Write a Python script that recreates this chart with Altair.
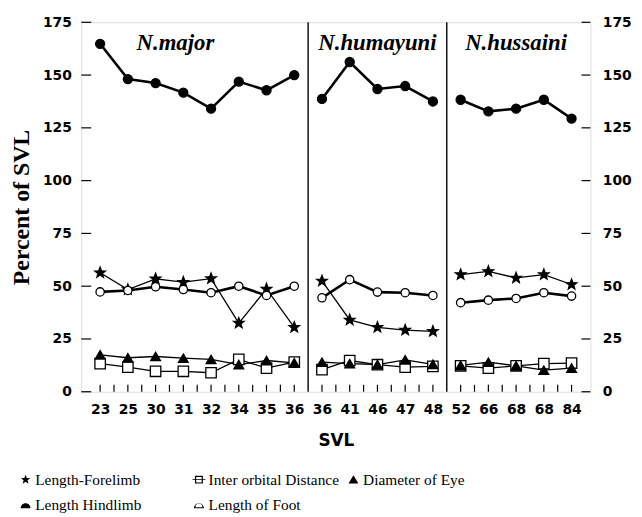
import math
import altair as alt
import numpy as np
import pandas as pd

# ---------------- data ----------------
panel_names = ["N.major", "N.humayuni", "N.hussaini"]
svl_major = ["23", "25", "30", "31", "32", "34", "35", "36"]
svl_humayuni = ["36", "41", "46", "47", "48"]
svl_hussaini = ["52", "66", "68", "68", "84"]

series_names = ["Length-Forelimb", "Inter orbital Distance", "Diameter of Eye",
                "Length Hindlimb", "Length of Foot"]

forelimb = [56.4, 48.4, 53.5, 51.9, 53.6, 32.5, 48.7, 30.5,
            52.5, 34.0, 30.5, 29.2, 28.6,
            55.5, 57.0, 53.9, 55.5, 50.8]
interorbital = [13.3, 11.7, 9.7, 9.7, 9.0, 15.3, 11.2, 14.0,
                10.5, 14.8, 12.8, 11.7, 12.0,
                12.3, 11.2, 12.3, 13.3, 13.6]
eye = [17.5, 16.1, 16.7, 15.9, 15.3, 12.9, 14.8, 13.7,
       14.0, 13.3, 12.9, 15.1, 13.0,
       12.5, 14.0, 12.3, 10.2, 11.2]
hindlimb = [164.8, 148.1, 146.2, 141.7, 134.1, 146.9, 142.8, 150.0,
            138.7, 156.2, 143.4, 144.8, 137.5,
            138.3, 132.8, 134.1, 138.3, 129.4]
foot = [47.3, 48.0, 49.7, 48.4, 46.9, 50.0, 45.6, 50.0,
        44.5, 53.1, 47.2, 46.9, 45.6,
        42.2, 43.4, 44.2, 46.9, 45.3]

y_tick_values = [0, 25, 50, 75, 100, 125, 150, 175]

# ---------------- tables ----------------
svl_groups = [svl_major, svl_humayuni, svl_hussaini]
svl_labels = svl_major + svl_humayuni + svl_hussaini
panel_of = []
for p, g in zip(panel_names, svl_groups):
    panel_of += [p] * len(g)
n = len(svl_labels)
values = dict(zip(series_names, [forelimb, interorbital, eye, hindlimb, foot]))

rows = []
for s in series_names:
    for i in range(n):
        rows.append({"idx": i, "svl": svl_labels[i], "panel": panel_of[i],
                     "series": s, "value": values[s][i]})
df = pd.DataFrame(rows)

# panel extents (index based)
starts, ends = [], []
k = 0
for g in svl_groups:
    starts.append(k)
    ends.append(k + len(g) - 1)
    k += len(g)
dividers = pd.DataFrame({"x": [(ends[i] + starts[i + 1]) / 2 for i in range(len(svl_groups) - 1)]})
minor = pd.DataFrame({"x": np.concatenate([np.arange(s, e + 0.01, 0.5) for s, e in zip(starts, ends)])})
titles = pd.DataFrame({"panel": panel_names,
                       "x": [(s + e) / 2 for s, e in zip(starts, ends)],
                       "dx": [-22, 0, 0]})
yticks = pd.DataFrame({"t": y_tick_values})

# ---------------- styling ----------------
W, H = 514, 373
xscale = alt.Scale(domain=[-0.679, 17.68], nice=False, zero=False)
yscale = alt.Scale(domain=[0, 175], nice=False, zero=True)
NUM_FONT = "DejaVu Sans"
SERIF = "Liberation Serif"


def star_path(r_in=0.42):
    pts = []
    for j in range(10):
        a = math.radians(-90 + 36 * j)
        r = 1.0 if j % 2 == 0 else r_in
        pts.append((r * math.cos(a), r * math.sin(a)))
    return "M" + " L".join(f"{x:.3f},{y:.3f}" for x, y in pts) + " Z"


STAR = star_path()
OPEN_SQ_LEG = ("M-0.8,-0.8 L0.8,-0.8 L0.8,0.8 L-0.8,0.8 Z "
               "M-0.55,-0.55 L-0.55,0.55 L0.55,0.55 L0.55,-0.55 Z "
               "M-1.3,-0.07 L1.3,-0.07 L1.3,0.07 L-1.3,0.07 Z")
TRI = "M0,-0.9 L1,0.8 L-1,0.8 Z"
DOME = "M-1,0.55 A1,1 0 0 1 1,0.55 Z"
OPEN_DOME = "M-1,0.55 A1,1 0 0 1 1,0.55 Z M0.72,0.35 A0.72,0.72 0 0 0 -0.72,0.35 Z"
leg_shapes = dict(zip(series_names, [STAR, OPEN_SQ_LEG, TRI, DOME, OPEN_DOME]))

plot_shapes = [STAR, "square", "triangle-up", "circle", "circle"]
plot_fills = ["black", "white", "black", "black", "white"]
plot_sizes = [125, 70, 80, 110, 105]

thin_series = series_names[:3]
thick_series = series_names[3:]
label_expr = "[" + ",".join(f"'{s}'" for s in svl_labels) + "][datum.value]"

X_noaxis = alt.X("idx:Q", scale=xscale, axis=None)
Y_noaxis = alt.Y("value:Q", scale=yscale, axis=None)

lines_thin = alt.Chart(df).transform_filter(
    alt.FieldOneOfPredicate(field="series", oneOf=thin_series)
).mark_line(color="black", strokeWidth=1.3).encode(
    x=alt.X("idx:Q", scale=xscale, axis=alt.Axis(
        values=list(range(n)), labelExpr=label_expr, title="SVL", grid=False,
        ticks=False, domain=False, labelFont=NUM_FONT, labelFontWeight="bold",
        labelFontSize=14, labelColor="black", labelPadding=11,
        titleFont=NUM_FONT, titleFontWeight="bold", titleFontSize=17,
        titleColor="black", titlePadding=16, labelFlush=False, labelOverlap=False)),
    y=alt.Y("value:Q", scale=yscale, axis=alt.Axis(
        orient="left", values=y_tick_values, title="Percent of SVL", grid=False,
        ticks=False, domain=False, labelFont=NUM_FONT, labelFontWeight="bold",
        labelFontSize=14, labelColor="black", labelPadding=10,
        titleFont=SERIF, titleFontWeight="bold", titleFontSize=24,
        titleColor="black", titlePadding=9)),
    detail=["series:N", "panel:N"],
)

lines_thick = alt.Chart(df).transform_filter(
    alt.FieldOneOfPredicate(field="series", oneOf=thick_series)
).mark_line(color="black", strokeWidth=2.6).encode(
    x=X_noaxis,
    y=alt.Y("value:Q", scale=yscale, axis=alt.Axis(
        orient="right", values=y_tick_values, title=None, grid=False,
        ticks=False, domain=False, labelFont=NUM_FONT, labelFontWeight="bold",
        labelFontSize=14, labelColor="black", labelPadding=12)),
    detail=["series:N", "panel:N"],
)

points = alt.Chart(df).mark_point(stroke="black", strokeWidth=1.3, opacity=1, fillOpacity=1).encode(
    x=X_noaxis, y=Y_noaxis,
    shape=alt.Shape("series:N", scale=alt.Scale(domain=series_names, range=plot_shapes), legend=None),
    fill=alt.Fill("series:N", scale=alt.Scale(domain=series_names, range=plot_fills), legend=None),
    size=alt.Size("series:N", scale=alt.Scale(domain=series_names, range=plot_sizes), legend=None),
)

ytick_left = alt.Chart(yticks).mark_rule(color="black", strokeWidth=1.2).encode(
    y=alt.Y("t:Q", scale=yscale, axis=None), x=alt.value(0), x2=alt.value(10))
ytick_right = alt.Chart(yticks).mark_rule(color="black", strokeWidth=1.2).encode(
    y=alt.Y("t:Q", scale=yscale, axis=None), x=alt.value(W - 9), x2=alt.value(W))
xticks = alt.Chart(minor).mark_rule(color="black", strokeWidth=1.2).encode(
    x=alt.X("x:Q", scale=xscale, axis=None), y=alt.value(H - 7), y2=alt.value(H))
divs = alt.Chart(dividers).mark_rule(color="black", strokeWidth=1.4).encode(
    x=alt.X("x:Q", scale=xscale, axis=None), y=alt.value(0), y2=alt.value(H))

title_layers = []
for p, xc, dx in zip(titles["panel"], titles["x"], titles["dx"]):
    title_layers.append(
        alt.Chart(titles[titles["panel"] == p]).mark_text(
            font=SERIF, fontStyle="italic", fontWeight="bold", fontSize=23,
            color="black", baseline="middle", align="center", dx=dx
        ).encode(x=alt.X("x:Q", scale=xscale, axis=None), y=alt.value(21), text="panel:N")
    )


def legend_layer(subset, lx):
    return alt.Chart(df).transform_filter("datum.value < -1000").mark_point(
        filled=True, color="black", opacity=1
    ).encode(
        x=X_noaxis, y=Y_noaxis,
        shape=alt.Shape("series:N", scale=alt.Scale(domain=subset, range=[leg_shapes[s] for s in subset]),
                        legend=alt.Legend(orient="none", legendX=lx, legendY=454, title=None,
                                          direction="vertical", symbolSize=100, symbolFillColor="black",
                                          symbolStrokeWidth=0, labelFont=SERIF, labelFontSize=15.5,
                                          labelColor="black", labelOffset=2, rowPadding=9,
                                          padding=0, labelLimit=300)),
    )


leg1 = legend_layer(["Length-Forelimb", "Length Hindlimb"], -64)
leg2 = legend_layer(["Inter orbital Distance", "Length of Foot"], 111)
leg3 = legend_layer(["Diameter of Eye"], 267)

chart = alt.layer(
    lines_thin, lines_thick, ytick_left, ytick_right, xticks, divs,
    points, *title_layers, leg1, leg2, leg3
).resolve_scale(
    shape="independent", fill="independent", size="independent"
).resolve_axis(
    x="independent", y="independent"
).properties(
    width=W, height=H,
    autosize=alt.AutoSizeParams(type="none"),
    padding={"left": 74, "top": 12, "right": 44, "bottom": 122},
).configure_view(
    stroke="black", strokeWidth=1.5
).configure(background="white")

chart.save("out.html", embed_options={"renderer": "svg", "actions": False})
